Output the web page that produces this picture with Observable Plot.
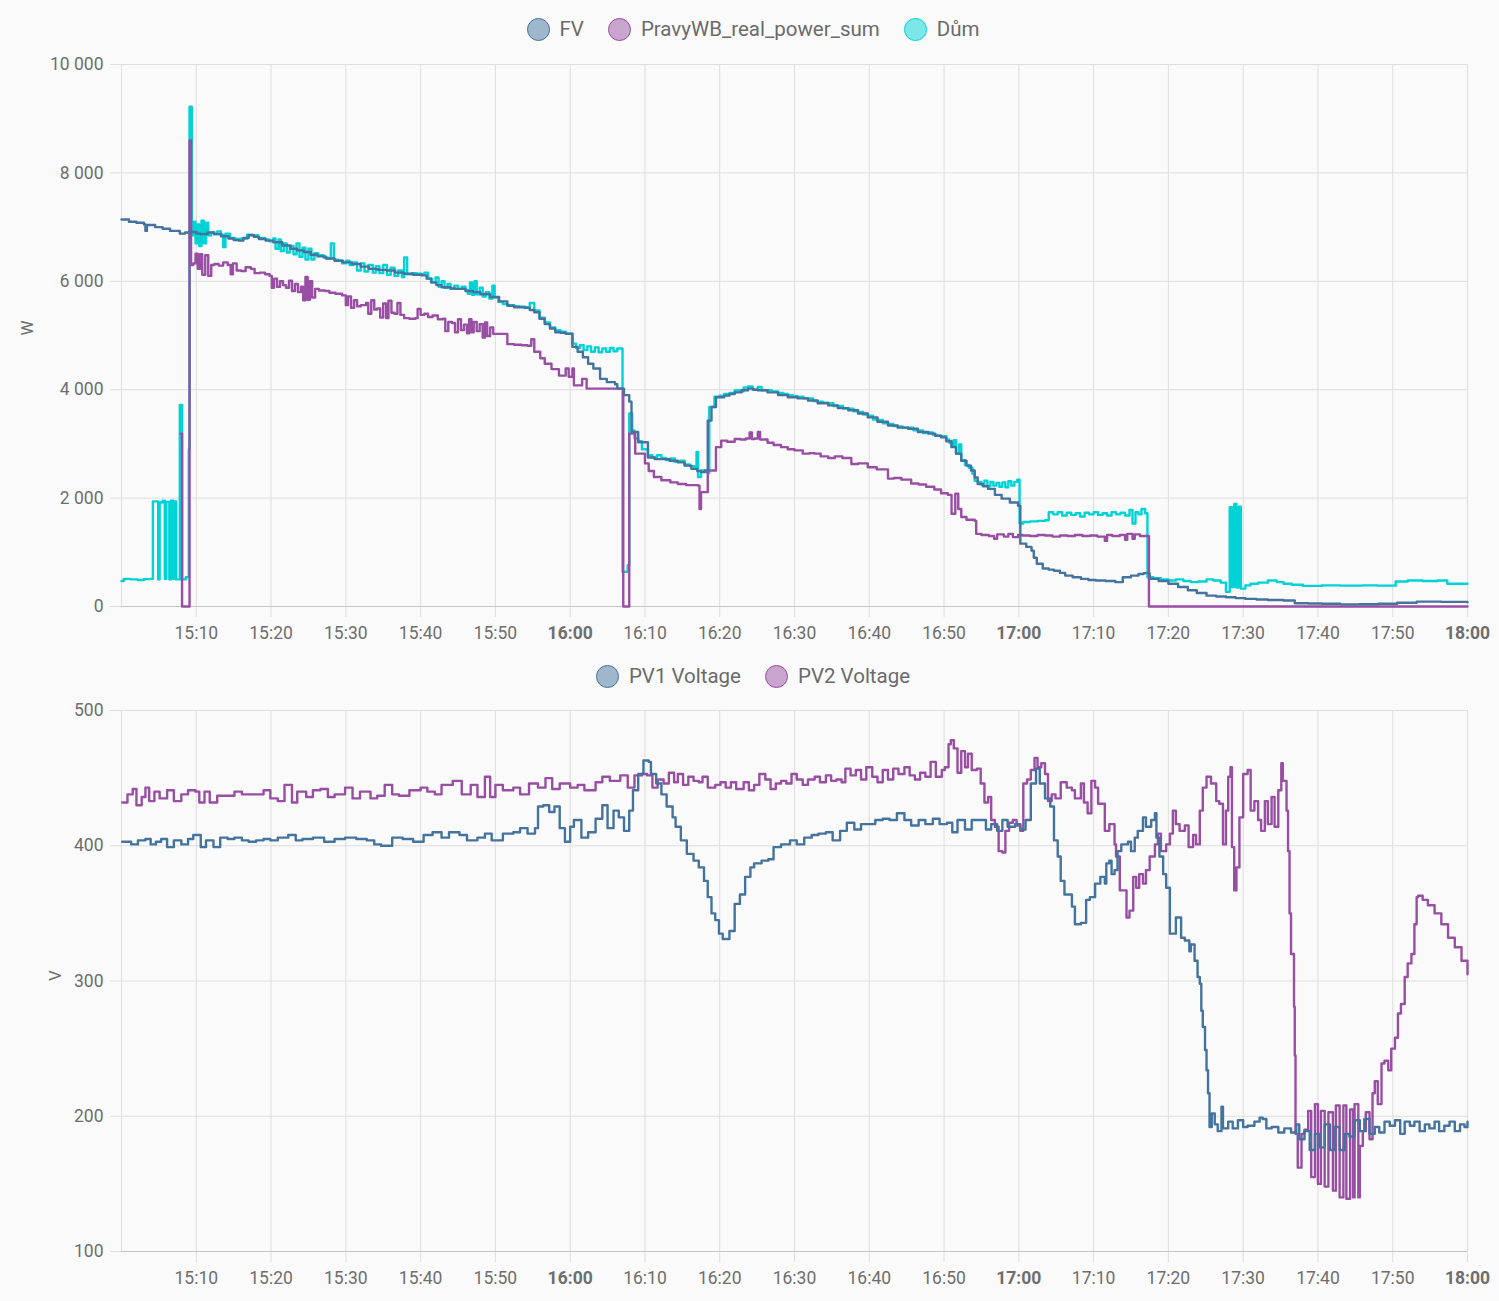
<!DOCTYPE html>
<html><head><meta charset="utf-8">
<script src="https://cdn.jsdelivr.net/npm/d3@7"></script>
<script src="https://cdn.jsdelivr.net/npm/@observablehq/plot@0.6"></script>
<style>
body{margin:0;background:#fafafa;font-family:Roboto,sans-serif;}
#c{width:1499px;}
.legend{display:flex;justify-content:center;align-items:center;font-size:20.5px;color:#6b6b6b;padding-left:7px;box-sizing:border-box;}
.item{display:flex;align-items:center;margin:0 12px;}
.dot{width:21px;height:21px;border-radius:50%;border:1.5px solid;margin-right:10px;}
svg{display:block;}
</style></head><body>
<div id="c"></div>
<script>
// ---------- data (minutes after 15:00, value) ----------
const powerSeries = ["FV", "PravyWB_real_power_sum", "Dům"];
const powerColors = ["#44739e", "#984ea3", "#00d2d5"];
const voltSeries = ["PV1 Voltage", "PV2 Voltage"];
const voltColors = ["#44739e", "#984ea3"];
const timeTickLabels = ["15:10","15:20","15:30","15:40","15:50","16:00","16:10","16:20","16:30","16:40","16:50","17:00","17:10","17:20","17:30","17:40","17:50","18:00"];
const gridTimeLabels = ["15:00", ...timeTickLabels];
const powerTicks = [0, 2000, 4000, 6000, 8000, 10000];
const voltTicks = [100, 200, 300, 400, 500];

const fvData = [[0,7140],[1,7100],[2,7080],[3,7050],[3.2,6930],[3.4,7040],[4.5,7000],[5.5,6970],[6.5,6930],[7.8,6880],[8.5,6900],[9,6910],[10,6880],[10.6,6870],[11.5,6900],[12.4,6870],[13.3,6830],[14.3,6790],[15,6760],[15.7,6750],[16.3,6800],[17,6850],[17.7,6820],[18.4,6780],[19.3,6750],[20.3,6720],[21.5,6660],[22.6,6600],[23.5,6570],[24.4,6540],[25.3,6490],[26.2,6460],[27.3,6420],[28.5,6380],[29.6,6350],[30.8,6320],[32,6270],[33.1,6230],[34.3,6210],[35.5,6200],[36.6,6160],[37.8,6140],[39,6120],[40.1,6110],[40.8,6050],[41.4,5980],[42.1,5930],[42.8,5890],[44,5870],[44.7,5860],[46,5820],[47,5800],[48,5760],[49.3,5710],[50.5,5630],[51.6,5550],[52.5,5520],[53.9,5510],[54.6,5470],[55.2,5430],[55.9,5310],[56.6,5210],[57.3,5130],[58,5060],[58.7,5050],[59.4,5030],[60.3,4790],[61,4700],[61.7,4600],[62.4,4480],[63.1,4390],[64,4200],[64.9,4140],[66,4100],[66.3,4020],[67.2,3900],[67.9,3780],[68.2,3220],[69.1,3030],[70.4,2750],[71.3,2720],[72.2,2720],[73.3,2690],[74.4,2660],[75.3,2600],[76.2,2540],[77,2500],[77.5,2480],[78,2510],[78.4,3430],[78.9,3680],[79.5,3860],[80.6,3890],[81.3,3920],[82,3950],[82.9,3990],[83.8,4020],[84.5,4000],[85.1,3990],[86.4,3950],[87.8,3900],[89.1,3860],[90.4,3840],[91.8,3800],[93.1,3750],[94.5,3710],[95.8,3660],[97.2,3620],[98.5,3560],[99.8,3490],[101.1,3410],[102.5,3340],[103.8,3300],[105.2,3280],[106.5,3220],[107.9,3190],[108.8,3150],[109.6,3120],[110.3,3050],[111,2940],[111.6,2820],[112.3,2690],[113,2600],[113.6,2510],[114.1,2380],[114.5,2260],[115.2,2220],[115.9,2170],[116.8,2060],[117.7,1990],[118.8,1920],[119.9,1860],[120.2,1160],[121,1100],[121.7,1030],[122,900],[122.4,790],[123.2,700],[124,680],[124.7,660],[125.5,620],[126.2,570],[127.2,540],[128.3,510],[129.3,490],[130.3,480],[131.6,470],[132.9,450],[133.9,540],[135,570],[136,600],[136.7,615],[137.5,510],[138.7,470],[140,420],[141.3,360],[142.6,300],[143.8,250],[145.1,200],[146.4,185],[147.7,170],[149,155],[150.3,140],[151.8,130],[153.3,120],[155.4,110],[156.9,60],[158.7,55],[160.5,50],[163,40],[165.5,42],[168.1,50],[170.6,70],[173.2,90],[176.5,85],[180,80]];

const wbData = [[7.9,3190],[8.1,0],[9.1,8600],[9.3,6300],[9.6,6330],[9.9,6510],[10.2,6230],[10.5,6500],[10.8,6120],[11.2,6480],[11.6,6100],[12,6300],[12.4,6320],[13,6290],[13.6,6350],[14.2,6300],[14.6,6130],[14.9,6330],[15.4,6200],[16,6190],[16.6,6260],[17.3,6230],[17.8,6150],[18.5,6160],[19.2,6130],[19.8,6100],[20.1,5880],[20.4,6050],[20.8,5900],[21.2,6000],[21.6,5930],[22,5880],[22.4,6010],[22.8,5820],[23.2,5950],[23.6,5800],[24,5900],[24.3,5650],[24.6,6080],[24.9,5660],[25.2,6000],[25.5,5700],[25.9,5860],[26.4,5830],[27.2,5820],[27.8,5790],[28.6,5770],[29.5,5740],[30,5560],[30.3,5720],[30.7,5510],[31.1,5650],[31.5,5540],[32,5560],[32.7,5600],[33,5400],[33.4,5650],[33.8,5480],[34.2,5500],[34.6,5330],[35,5590],[35.4,5320],[35.7,5640],[36.1,5420],[36.5,5400],[36.9,5600],[37.3,5380],[37.8,5320],[38.5,5310],[39.3,5320],[39.6,5490],[40,5380],[40.5,5400],[41,5340],[41.6,5370],[42.3,5300],[43,5310],[43.3,5080],[43.7,5250],[44.2,5230],[44.6,5060],[45,5300],[45.4,5100],[45.8,5200],[46.2,5040],[46.5,5300],[46.8,5060],[47.1,5250],[47.5,5080],[47.9,5210],[48.3,4960],[48.6,5240],[48.9,4990],[49.3,5150],[49.7,5030],[50.5,5030],[51.6,4840],[52.5,4830],[53.5,4820],[54.3,4810],[54.8,4930],[55.2,4700],[56,4580],[56.6,4480],[57.5,4380],[58.5,4260],[59.4,4390],[59.8,4240],[60.3,4390],[60.5,4080],[61.2,4080],[61.6,4200],[62.2,4020],[64,4020],[66.3,4020],[67.1,0],[67.9,3190],[68.7,2820],[69.5,2820],[70,2640],[70.5,2500],[71.2,2390],[72.2,2330],[73.4,2290],[74.4,2260],[75.5,2240],[77.1,2230],[77.3,1800],[77.5,2110],[78.4,2510],[79.5,2940],[80.2,3060],[81,3040],[82,3090],[82.8,3080],[83.5,3100],[84,3210],[84.3,3090],[84.7,3100],[85.1,3220],[85.4,3080],[86.4,3020],[87.2,2980],[88.2,2940],[89.1,2900],[90,2880],[91.1,2820],[92,2830],[92.7,2820],[93.5,2770],[94.5,2740],[95.4,2770],[96.4,2740],[97.6,2630],[98.5,2640],[99.8,2570],[101,2530],[102.5,2360],[103.3,2370],[104.3,2340],[105.6,2270],[106.6,2250],[107.6,2210],[108.7,2160],[109.6,2090],[110.5,2060],[111,1710],[111.5,2080],[111.9,1800],[112.3,1650],[113,1600],[114.1,1580],[114.3,1340],[115,1320],[116,1300],[116.7,1250],[117.1,1330],[118,1290],[118.6,1340],[119.2,1280],[119.9,1320],[120.5,1310],[121.5,1300],[122.5,1320],[123.5,1310],[124.5,1290],[125.5,1310],[126.5,1300],[127.5,1320],[128.5,1300],[129.5,1310],[130.5,1290],[131.5,1210],[131.8,1320],[132.5,1300],[133.5,1320],[134.2,1230],[134.5,1340],[135.2,1250],[135.5,1330],[136.2,1300],[137.4,0],[180,0]];

const homeData = [[0,470],[0.3,510],[1.2,500],[2.2,490],[3,505],[3.8,510],[4.2,1940],[4.9,500],[5.1,1920],[5.5,1950],[5.8,510],[6,1930],[6.4,500],[6.6,1950],[6.9,510],[7,1940],[7.3,500],[7.8,3720],[8.1,500],[8.6,540],[9,2900],[9.1,9220],[9.4,6850],[9.7,7100],[9.9,6700],[10.2,7050],[10.4,6650],[10.7,7120],[11,6700],[11.3,7080],[11.6,6850],[12,6900],[12.4,6870],[12.8,6920],[13.3,6860],[13.6,6630],[13.9,6880],[14.5,6800],[15.2,6780],[16,6790],[16.8,6860],[17.5,6850],[18.3,6800],[19.2,6770],[19.8,6740],[20.3,6790],[20.6,6600],[21,6770],[21.3,6560],[21.7,6700],[22.1,6530],[22.5,6650],[23,6500],[23.4,6700],[23.8,6450],[24.2,6620],[24.6,6400],[25,6600],[25.4,6400],[25.8,6520],[26.3,6480],[27,6440],[27.6,6420],[28,6700],[28.4,6400],[29,6380],[29.5,6330],[30,6380],[30.5,6300],[31,6350],[31.5,6200],[32,6330],[32.5,6180],[33,6300],[33.6,6160],[34,6280],[34.5,6150],[35,6300],[35.5,6120],[36,6250],[36.5,6100],[37,6200],[37.5,6080],[37.8,6440],[38.2,6130],[38.8,6150],[39.5,6140],[40.1,6130],[40.5,6160],[41,6050],[41.5,5980],[42,6070],[42.4,5900],[42.8,6000],[43.2,5880],[43.6,5950],[44,5860],[44.5,5920],[45,5860],[45.5,5900],[46,5840],[46.3,5770],[46.6,5980],[46.9,5750],[47.2,6000],[47.5,5760],[47.9,5880],[48.3,5720],[48.7,5800],[49.2,5680],[49.6,5920],[49.9,5700],[50.4,5620],[51,5580],[51.6,5560],[52.5,5540],[53.2,5530],[54,5520],[54.6,5600],[55.2,5460],[55.9,5330],[56.6,5240],[57.3,5150],[58,5100],[58.7,5070],[59.4,5040],[60.3,4850],[60.8,4770],[61.3,4820],[61.8,4730],[62.3,4800],[62.8,4700],[63.3,4780],[63.8,4690],[64.3,4760],[64.8,4700],[65.3,4770],[65.8,4710],[66.3,4760],[66.9,4760],[67,640],[67.7,760],[67.9,3560],[68.3,3250],[68.6,3100],[69.1,3050],[69.6,2900],[70.4,2790],[71,2750],[71.6,2790],[72.2,2740],[72.8,2700],[73.4,2730],[74,2670],[74.7,2690],[75.3,2620],[76,2590],[76.6,2560],[76.9,2850],[77.1,2390],[77.5,2510],[78,2480],[78.4,2460],[78.6,3680],[79.3,3870],[80,3890],[80.6,3920],[81.3,3940],[82,3990],[82.6,3970],[83.2,4040],[83.8,4060],[84.4,4000],[85.1,4050],[85.6,3990],[86.4,3990],[87,3970],[87.8,3940],[88.5,3920],[89.1,3900],[89.8,3880],[90.4,3870],[91.2,3840],[91.8,3840],[92.5,3790],[93.1,3780],[93.8,3760],[94.5,3750],[95.2,3700],[95.8,3700],[96.5,3650],[97.2,3650],[97.9,3600],[98.5,3590],[99.2,3540],[99.8,3520],[100.5,3450],[101.1,3440],[101.8,3380],[102.5,3370],[103.2,3330],[103.8,3320],[104.5,3300],[105.2,3300],[105.9,3250],[106.5,3250],[107.2,3200],[107.9,3210],[108.5,3170],[109,3150],[109.6,3140],[110.3,3080],[110.7,3020],[111,2950],[111.3,3070],[111.6,2820],[112,2990],[112.3,2700],[112.8,2610],[113.3,2560],[113.8,2450],[114.1,2320],[114.5,2300],[115,2250],[115.4,2320],[115.8,2220],[116.2,2300],[116.6,2230],[117,2280],[117.4,2210],[117.8,2290],[118.2,2200],[118.6,2310],[119,2230],[119.4,2300],[119.8,2340],[120.1,1530],[120.6,1560],[121.5,1570],[122.5,1580],[123.5,1590],[124,1740],[124.6,1700],[125.2,1740],[125.8,1680],[126.4,1730],[127,1690],[127.6,1720],[128.2,1660],[128.8,1730],[129.4,1700],[130,1740],[130.6,1690],[131.2,1720],[131.8,1680],[132.4,1740],[133,1700],[133.6,1730],[134.2,1680],[134.8,1780],[135.2,1530],[135.6,1740],[136,1700],[136.4,1800],[136.9,1720],[137.2,540],[138,520],[139,500],[140,480],[141,500],[142,470],[143,450],[144,460],[145.1,500],[146,480],[147,440],[147.7,270],[148.2,1830],[148.5,360],[148.8,1890],[149.1,350],[149.4,1840],[149.7,330],[150.3,390],[151,420],[152,440],[153.3,480],[154.5,450],[155.4,420],[156.5,400],[158,380],[160.5,390],[163,385],[166,390],[168,385],[170.4,460],[172,480],[174,470],[176,480],[177.3,420],[180,420]];

const pv1Data = [[0.1,403],[1.3,401],[2.2,404],[3.2,405],[3.9,401],[4.6,403],[5.3,405],[6.1,399],[7,404],[8,401],[8.9,405],[9.6,408],[10.6,399],[11.3,404],[12.3,399],[13.2,406],[14.2,405],[15.1,406],[16.1,404],[17,403],[18,404],[19,405],[19.9,404],[20.9,406],[22.3,408],[23.3,404],[24.2,405],[25.6,406],[27.1,403],[28.5,405],[29.9,406],[31.4,405],[32.8,404],[33.8,401],[34.7,400],[36.2,406],[37.6,405],[39,403],[40.4,408],[41.6,410],[42.8,406],[43.8,410],[45.2,408],[46.2,404],[47.6,406],[48.6,409],[49.5,404],[51,409],[52.4,410],[53.3,413],[54.3,409],[55.3,413],[55.7,429],[56.4,430],[57.2,425],[57.9,429],[58.6,413],[59.3,403],[60,414],[60.5,419],[61.5,406],[62.4,410],[63.4,420],[64.3,430],[65,413],[65.8,426],[66.5,421],[67.2,411],[67.9,426],[68.4,441],[69.1,453],[69.8,463],[70.5,462],[70.8,453],[71.5,446],[72.2,438],[72.9,429],[73.7,421],[74.1,414],[74.8,404],[75.6,394],[76.5,389],[77.2,384],[77.9,374],[78.4,362],[78.9,350],[79.4,345],[79.9,335],[80.4,331],[81.3,337],[82,357],[82.7,364],[83.4,377],[84.1,384],[84.6,387],[85.6,389],[86.5,390],[87.2,399],[88.2,401],[89.4,404],[90.3,401],[91.3,406],[92.3,408],[93.2,409],[94.2,410],[95.1,404],[96.1,411],[97,417],[98,412],[98.9,416],[99.9,416],[100.8,419],[101.8,420],[102.7,419],[103.7,424],[104.7,419],[105.6,415],[106.6,419],[107.5,416],[108.5,420],[109.4,416],[110.4,417],[111.1,410],[111.8,419],[112.8,412],[113.7,419],[114.7,419],[115.6,412],[116.3,416],[117.1,411],[117.8,419],[118.5,414],[119.5,416],[120.2,412],[120.9,419],[121.6,446],[122.3,457],[122.8,446],[123.5,435],[124.2,429],[124.7,404],[125.2,392],[125.6,374],[126.1,364],[127.1,355],[127.5,342],[128.3,343],[129,360],[129.5,362],[130.2,372],[130.9,377],[131.5,372],[131.7,387],[132.1,389],[132.4,379],[132.8,382],[133.2,396],[133.7,401],[134.6,403],[135,396],[135.5,406],[135.9,411],[136.6,421],[137,414],[137.7,419],[138.2,424],[138.4,406],[138.8,392],[139.3,379],[139.7,369],[140.2,335],[141,347],[141.7,332],[142.2,330],[142.8,322],[143,327],[143.5,315],[143.9,303],[144.2,298],[144.4,278],[144.6,266],[144.9,249],[145.1,234],[145.3,217],[145.5,192],[145.8,202],[146.2,194],[146.6,189],[147.1,207],[147.3,191],[148,196],[148.6,191],[149.3,197],[150,192],[150.6,193],[151.5,196],[152.2,199],[152.6,198],[153.1,191],[153.8,192],[154.7,188],[155.5,191],[156.4,188],[157.1,194],[157.5,183],[158.2,189],[158.9,175],[159.6,187],[160.2,177],[160.9,194],[161.6,175],[162.2,192],[162.9,175],[163.6,187],[164.2,185],[164.9,197],[165.6,189],[166.2,198],[166.9,187],[167.6,192],[168.2,188],[168.9,196],[169.6,193],[170.3,197],[171,187],[171.6,196],[172.3,193],[172.9,196],[173.6,189],[174.3,194],[174.9,191],[175.6,196],[176.2,189],[176.9,193],[177.6,196],[178.3,189],[179,194],[179.6,192],[180,196]];

const pv2Data = [[0.1,432],[0.8,438],[1.5,442],[2,430],[2.7,436],[3.2,443],[3.7,433],[4.4,440],[5.1,435],[6.1,441],[7,433],[8,438],[8.9,441],[9.9,440],[10.4,432],[11.1,440],[11.8,432],[12.8,437],[14.2,437],[15.1,440],[16.1,438],[17.5,438],[19,441],[19.9,435],[20.9,433],[21.8,445],[22.8,432],[23.5,440],[24.7,436],[25.6,441],[26.6,442],[27.6,436],[28.5,438],[29.9,443],[30.9,435],[31.9,440],[33.3,435],[34.2,437],[35.2,445],[36.2,438],[37.1,437],[38.5,441],[40,443],[40.9,440],[41.9,438],[42.8,445],[44.3,448],[45.5,438],[46.7,445],[47.6,436],[48.6,451],[49.3,436],[50,445],[51,441],[52.4,443],[53.3,438],[54.5,446],[55.7,443],[56.7,450],[57.6,442],[58.6,446],[60,443],[61,445],[61.9,441],[63.4,447],[64.3,451],[65.3,448],[66.7,452],[67.7,443],[68.6,452],[69.6,453],[70.3,452],[71,443],[71.7,449],[72.5,446],[73.2,454],[73.9,447],[74.4,453],[75.1,445],[75.8,451],[76.5,448],[77.2,447],[77.7,451],[78.4,443],[79.4,445],[80.1,447],[80.8,443],[81.5,447],[82.2,442],[83.2,447],[83.9,441],[84.6,445],[85.3,453],[86.1,449],[86.8,442],[87.5,446],[88.2,448],[88.9,446],[89.6,453],[90.3,449],[91.1,445],[91.8,449],[92.7,451],[93.4,447],[94.2,452],[94.9,448],[95.6,449],[96.3,447],[96.8,457],[97.5,452],[98.2,456],[98.9,449],[99.6,458],[100.4,451],[101.1,447],[101.8,456],[102.5,449],[103.2,457],[103.9,453],[104.7,458],[105.4,452],[106.1,449],[106.8,454],[107.5,451],[108.2,462],[108.9,451],[109.7,456],[110.1,458],[110.6,475],[110.9,478],[111.3,472],[111.8,454],[112.3,470],[112.8,458],[113.2,468],[113.7,456],[114.4,457],[114.9,446],[115.4,432],[115.9,436],[116.3,419],[116.8,414],[117.3,396],[117.8,395],[118.2,411],[118.7,417],[119.2,419],[119.7,415],[120.2,411],[120.6,446],[121.1,449],[121.6,456],[122.1,465],[122.5,458],[123,461],[123.5,453],[123.9,433],[124.4,438],[124.9,435],[125.6,447],[126.4,443],[127.1,441],[127.5,435],[128.3,446],[128.7,432],[129.2,424],[129.7,448],[130.2,443],[130.6,431],[131.5,411],[132.1,416],[132.8,401],[133,392],[133.5,367],[134.4,347],[134.8,352],[135.3,377],[135.7,369],[136.1,379],[136.6,372],[137,382],[137.5,392],[138.2,401],[138.6,409],[139,396],[139.7,401],[140.2,409],[140.6,426],[141,416],[141.5,411],[142.2,415],[142.7,399],[143.3,408],[143.7,401],[144.2,426],[144.6,443],[145.1,451],[145.7,446],[146.4,433],[146.8,431],[147.3,401],[147.7,426],[148,451],[148.3,458],[148.5,399],[148.8,367],[149.1,384],[149.5,421],[150,453],[150.6,456],[151,426],[151.5,433],[152,419],[152.4,411],[152.9,433],[153.3,416],[153.8,436],[154.2,414],[154.7,441],[155.1,461],[155.3,448],[155.8,426],[156,396],[156.2,350],[156.4,320],[156.8,281],[156.9,245],[157,187],[157.3,162],[157.8,187],[158.2,190],[158.7,204],[159.1,155],[159.6,209],[160,150],[160.4,204],[160.9,148],[161.4,203],[162,145],[162.4,208],[162.9,140],[163.4,208],[163.8,139],[164.3,205],[164.7,140],[164.9,209],[165.4,140],[165.6,178],[166,189],[166.4,203],[166.9,183],[167.3,217],[167.6,226],[168,209],[168.5,239],[168.9,241],[169.4,234],[169.8,250],[170.3,258],[170.7,276],[171.1,283],[171.6,303],[172,313],[172.5,320],[172.9,342],[173.2,362],[173.4,363],[174,360],[174.7,356],[175.6,350],[176.5,342],[177.4,332],[178.3,325],[179.2,315],[180,305]];

// ---------- helpers ----------
const base = Date.UTC(2024, 0, 1, 15, 0);
const toDate = m => new Date(base + m * 60000);
const parseHM = s => { const [h, m] = s.split(":").map(Number); return toDate((h - 15) * 60 + m); };
const rows = arr => arr.map(([m, v]) => ({t: toDate(m), v}));
const csFormat = d3.formatLocale({decimal: ",", thousands: "\u00a0", grouping: [3], currency: ["", ""]}).format(",d");
const hmFormat = d3.utcFormat("%H:%M");
const GRID = "#dedede", TEXT = "#6e6e6e";

function legend(names, colors, h) {
  const div = document.createElement("div");
  div.className = "legend";
  div.style.height = h + "px";
  names.forEach((n, i) => {
    const it = document.createElement("div"); it.className = "item";
    const dot = document.createElement("span"); dot.className = "dot";
    dot.style.borderColor = colors[i];
    dot.style.background = d3.color(colors[i]).copy({opacity: 0.5}).formatRgb();
    const tx = document.createElement("span"); tx.textContent = n;
    it.appendChild(dot); it.appendChild(tx); div.appendChild(it);
  });
  return div;
}

function chart({series, colors, datasets, yDomain, yTicks, yFormat, yLabel, labelDx, height, mt, mb}) {
  const lines = [];
  for (let i = series.length - 1; i >= 0; i--) {
    lines.push(Plot.line(rows(datasets[i]), {x: "t", y: "v", stroke: colors[i], strokeWidth: 2.4, curve: "step-after"}));
  }
  const svg = Plot.plot({
    width: 1499, height, marginLeft: 121, marginRight: 32, marginTop: mt, marginBottom: mb,
    style: {background: "transparent", fontFamily: "Roboto, sans-serif", fontSize: "17px", color: TEXT, overflow: "visible"},
    x: {type: "utc", domain: [parseHM("15:00"), parseHM("18:00")]},
    y: {domain: yDomain},
    marks: [
      Plot.gridY(yTicks, {stroke: GRID, strokeOpacity: 1}),
      Plot.gridX(gridTimeLabels.map(parseHM), {stroke: GRID, strokeOpacity: 1}),
      Plot.axisY(yTicks, {tickSize: 11, tickPadding: 7, tickFormat: yFormat, stroke: GRID, strokeOpacity: 1, fill: TEXT, fontSize: 17.5, label: null}),
      Plot.axisX(timeTickLabels.map(parseHM), {tickSize: 11, tickPadding: 9, tickFormat: hmFormat, stroke: GRID, strokeOpacity: 1, fill: TEXT, fontSize: 17.5, label: null}),
      Plot.ruleY([yDomain[0]], {stroke: "#c6c6c6"}),
      ...lines,
      Plot.text([yLabel], {frameAnchor: "left", dx: labelDx, rotate: -90, fontSize: 17, fill: TEXT})
    ]
  });
  svg.querySelectorAll('[aria-label="x-axis tick label"] text').forEach(t => {
    if (t.textContent.endsWith(":00")) t.setAttribute("font-weight", "bold");
  });
  return svg;
}

const c = document.getElementById("c");
c.appendChild(legend(powerSeries, powerColors, 58));
c.appendChild(chart({series: powerSeries, colors: powerColors, datasets: [fvData, wbData, homeData],
  yDomain: [0, 10000], yTicks: powerTicks, yFormat: csFormat, yLabel: "W", labelDx: -94, height: 592, mt: 6, mb: 44}));
c.appendChild(legend(voltSeries, voltColors, 52));
c.appendChild(chart({series: voltSeries, colors: voltColors, datasets: [pv1Data, pv2Data],
  yDomain: [100, 500], yTicks: voltTicks, yFormat: d => String(d), yLabel: "V", labelDx: -66, height: 599, mt: 8, mb: 50}));
</script></body></html>
